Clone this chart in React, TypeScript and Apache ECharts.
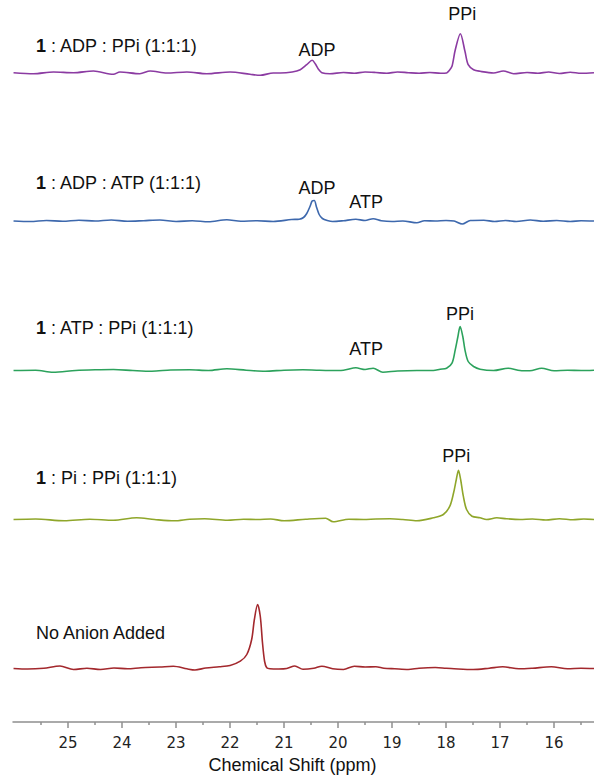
import React, { useEffect, useRef } from 'react';
import * as echarts from 'echarts';

// [chemical shift (ppm), intensity above the trace's baseline]
const ADP_PPI: [number, number][] = [
  [26.01, 0.3], [25.64, -0.7], [25.27, 1], [24.9, 0.3], [24.53, 2], [24.16, -1.3], [24.04, 1],
  [23.67, -0.7], [23.48, 2], [23.17, 0], [22.8, 1], [22.43, -0.7], [22.0, 1], [21.63, -1.3],
  [21.44, -2.3], [21.2, 0], [21.07, 0], [20.85, 1], [20.7, 3.3], [20.58, 8.3], [20.48, 12.7],
  [20.42, 9], [20.36, 3.5], [20.3, 0.3], [20.15, -0.7], [19.9, 0.5], [19.7, -0.3], [19.5, 1],
  [19.3, 0.5], [19.1, -0.3], [18.9, 1], [18.7, 0.3], [18.5, -0.3], [18.3, 0.5], [18.1, -0.3],
  [17.99, 0], [17.94, 2.5], [17.89, 6.7], [17.83, 23], [17.735, 39.3], [17.65, 21.7], [17.59, 8.3],
  [17.49, 3.3], [17.37, 1.7], [17.12, 0], [16.94, 2], [16.75, -0.7], [16.5, 0.5], [16.3, -0.3],
  [16.1, 1], [15.9, -0.5], [15.7, 0.8], [15.5, -0.3], [15.26, 0.3],
];

const ADP_ATP: [number, number][] = [
  [26.01, 0], [25.7, -0.5], [25.4, 0.5], [25.1, -0.3], [24.8, 0.8], [24.5, 0], [24.2, 1], [23.9, -0.3],
  [23.6, 0.3], [23.3, 1], [23.0, -0.5], [22.7, 0.3], [22.4, -0.8], [22.06, 1.2], [21.8, -0.3],
  [21.5, 0.3], [21.2, -0.5], [20.86, 1.5], [20.72, 1.8], [20.64, 3.5], [20.58, 7.5], [20.52, 14.5],
  [20.48, 20], [20.44, 20.5], [20.4, 14], [20.35, 6.5], [20.29, 2.5], [20.2, 0.5], [20.1, -0.5],
  [19.9, 0.3], [19.67, 1.7], [19.5, 0.5], [19.35, 2.3], [19.2, 0.3], [19.0, -0.5], [18.8, 0],
  [18.54, -1.8], [18.4, 0.3], [18.2, 0], [18.0, 0.5], [17.85, 0], [17.7, -3], [17.55, 0.5],
  [17.3, 0.8], [17.1, -0.5], [16.9, 0.5], [16.7, -0.5], [16.44, 1], [16.2, -0.3], [15.95, 0.5],
  [15.7, -0.5], [15.5, 0.3], [15.26, 0],
];

const ATP_PPI: [number, number][] = [
  [26.01, 0], [25.6, 0.3], [25.28, -1.7], [24.86, 0], [24.5, 0.7], [24.16, 1], [23.8, 0],
  [23.45, -0.7], [23.1, 0.5], [22.75, 0.7], [22.4, 0], [22.06, 1.7], [21.7, 0.3], [21.35, -0.7],
  [21.0, 0.3], [20.65, 0.7], [20.4, 0.3], [20.16, 0], [19.9, 0.3], [19.67, 2.7], [19.5, 1],
  [19.35, 2.3], [19.17, -1.7], [18.9, -0.5], [18.54, 0], [18.235, 0], [18.11, 1.3], [17.99, 2.3],
  [17.89, 7.3], [17.83, 20.7], [17.78, 34], [17.74, 44], [17.69, 34], [17.65, 20.7], [17.59, 9],
  [17.49, 4], [17.37, 1.3], [17.12, 0], [16.85, 2.3], [16.63, 0], [16.45, -0.3], [16.23, 2.3],
  [16.0, -0.3], [15.75, 0.3], [15.5, 0], [15.26, 0.3],
];

const PI_PPI: [number, number][] = [
  [26.01, 0], [25.6, 0.5], [25.07, -1.3], [24.6, 0.3], [24.16, -0.7], [23.73, 1.7], [23.4, 0],
  [23.03, -1.3], [22.75, 0.3], [22.47, 0.7], [22.05, -0.7], [21.75, 0.3], [21.49, 0], [21.25, 0.5],
  [21.0, -1.3], [20.6, 0.3], [20.23, 1.3], [20.09, -2.3], [19.8, 0.3], [19.53, 0], [19.3, 0.5],
  [19.04, 0.7], [18.8, 0], [18.54, -1.3], [18.235, 1.7], [18.05, 5], [17.93, 13.3], [17.86, 26.7],
  [17.81, 40], [17.77, 49.3], [17.73, 40], [17.68, 23.3], [17.62, 10], [17.52, 3.3], [17.37, 1.7],
  [17.25, 0], [17.06, 1.7], [16.88, 0.7], [16.63, 0], [16.4, 0.5], [16.15, -0.5], [15.9, 0.8],
  [15.65, -0.3], [15.45, 0.5], [15.26, 0],
];

const NO_ANION: [number, number][] = [
  [26.01, 0], [25.75, -0.5], [25.45, 0.3], [25.15, 2.5], [24.9, -1], [24.65, 0.3], [24.4, -1],
  [24.15, 0.5], [23.9, -0.3], [23.65, 0.8], [23.3, 1.5], [23.05, 2.2], [22.8, -0.3], [22.65, -1.5],
  [22.45, 0.5], [22.2, 1.7], [22.0, 3], [21.81, 7.3], [21.69, 14], [21.6, 29], [21.55, 49],
  [21.49, 64], [21.44, 52], [21.4, 26], [21.36, 7], [21.32, 0.7], [21.26, -0.3], [21.1, -0.5],
  [20.95, 0], [20.8, 2.5], [20.65, -0.8], [20.45, 0.2], [20.3, 2.3], [20.1, -0.3], [19.9, -1],
  [19.7, 2.3], [19.5, 1.5], [19.3, 1.8], [19.15, 0.3], [18.95, -0.3], [18.7, -1], [18.5, 0.3],
  [18.2, 1], [18.0, 0.2], [17.85, -0.3], [17.5, -1], [17.2, 0.3], [16.95, 1.7], [16.65, -0.3],
  [16.4, 0.3], [16.05, 1.7], [15.75, -0.3], [15.5, 0.3], [15.26, 0],
];

// peak labels: [text, ppm, height above baseline]
const PEAKS_ADP_PPI: [string, number, number][] = [['ADP', 20.39, 23], ['PPi', 17.7, 59]];
const PEAKS_ADP_ATP: [string, number, number][] = [['ADP', 20.39, 33], ['ATP', 19.48, 19]];
const PEAKS_ATP_PPI: [string, number, number][] = [['ATP', 19.48, 22], ['PPi', 17.74, 57]];
const PEAKS_PI_PPI: [string, number, number][] = [['PPi', 17.81, 64]];
const PEAKS_NO_ANION: [string, number, number][] = [];

const SAMPLE_NAMES = ['ADP : PPi (1:1:1)', 'ADP : ATP (1:1:1)', 'ATP : PPi (1:1:1)', 'Pi : PPi (1:1:1)', 'No Anion Added'];
const MAJOR_TICKS = [25, 24, 23, 22, 21, 20, 19, 18, 17, 16];
const MINOR_TICKS = [25.5, 24.5, 23.5, 22.5, 21.5, 20.5, 19.5, 18.5, 17.5, 16.5, 15.5];

const PPM_MIN = 15.26;
const PPM_MAX = 26.02;

const FONT = '"Liberation Sans", Arial, sans-serif';

export default function App() {
  const ref = useRef<HTMLDivElement>(null);
  useEffect(() => {
    const chart = echarts.init(ref.current!, null, { renderer: 'svg' });
    const traces = [
      { data: ADP_PPI, peaks: PEAKS_ADP_PPI, color: '#8b3ba2', top: 3, labelY: 46 },
      { data: ADP_ATP, peaks: PEAKS_ADP_ATP, color: '#3d68ad', top: 151, labelY: 183 },
      { data: ATP_PPI, peaks: PEAKS_ATP_PPI, color: '#2ca25c', top: 300.5, labelY: 328 },
      { data: PI_PPI, peaks: PEAKS_PI_PPI, color: '#8fa62a', top: 449.5, labelY: 478 },
      { data: NO_ANION, peaks: PEAKS_NO_ANION, color: '#a3282d', top: 598.5, labelY: 633 },
    ];
    const grid: any[] = [];
    const xAxis: any[] = [];
    const yAxis: any[] = [];
    const series: any[] = [];
    traces.forEach((t, i) => {
      const last = i === traces.length - 1;
      grid.push({ left: 13, right: 0, top: t.top, height: last ? 123.5 : 80 });
      xAxis.push(
        last
          ? {
              gridIndex: i, type: 'value', min: PPM_MIN, max: PPM_MAX, inverse: true, position: 'bottom',
              axisLine: { show: true, onZero: false, lineStyle: { color: '#8f8f8f', width: 1.5 } },
              axisTick: { show: true, customValues: MAJOR_TICKS, length: 6, lineStyle: { color: '#8f8f8f', width: 1.5 } },
              axisLabel: { show: true, customValues: MAJOR_TICKS, margin: 13, fontSize: 15, color: '#222', fontFamily: '"DejaVu Sans", sans-serif' },
              splitLine: { show: false },
              name: 'Chemical Shift (ppm)', nameLocation: 'middle', nameGap: 34,
              nameTextStyle: { fontSize: 18, color: '#111', fontFamily: FONT, padding: [0, 22, 0, 0] },
            }
          : { gridIndex: i, type: 'value', min: PPM_MIN, max: PPM_MAX, inverse: true, show: false }
      );
      yAxis.push({ gridIndex: i, type: 'value', min: last ? -53.5 : -10, max: 70, show: false });
      series.push({
        type: 'line', xAxisIndex: i, yAxisIndex: i, data: t.data, symbol: 'none', showSymbol: false,
        smooth: 0.3, lineStyle: { color: t.color, width: 1.6 }, silent: true,
        markPoint: {
          symbol: 'circle', symbolSize: 1, itemStyle: { color: 'rgba(0,0,0,0)' }, silent: true,
          data: t.peaks.map(([txt, x, y]) => ({
            coord: [x, y], value: txt,
            label: { show: true, position: 'inside', formatter: txt, fontSize: 18, color: '#111', fontFamily: FONT },
          })),
        },
      });
    });
    // minor ticks
    grid.push({ left: 13, right: 0, top: 598.5, height: 123.5 });
    xAxis.push({
      gridIndex: 5, type: 'value', min: PPM_MIN, max: PPM_MAX, inverse: true, position: 'bottom',
      axisLine: { show: false, onZero: false },
      axisTick: { show: true, customValues: MINOR_TICKS, length: 3, lineStyle: { color: '#8f8f8f', width: 1.5 } },
      axisLabel: { show: false }, splitLine: { show: false },
    });
    yAxis.push({ gridIndex: 5, type: 'value', min: -53.5, max: 70, show: false });

    const graphic = traces.map((t, i) => ({
      type: 'text', x: 36, y: t.labelY,
      style: {
        text: i < 4 ? `{b|1} : ${SAMPLE_NAMES[i]}` : SAMPLE_NAMES[i],
        fontSize: 18, fill: '#111', fontFamily: FONT, verticalAlign: 'middle',
        rich: { b: { fontWeight: 'bold', fontSize: 18, fontFamily: FONT, fill: '#111' } },
      },
    }));

    chart.setOption({ animation: false, backgroundColor: '#fff', grid, xAxis, yAxis, series, graphic });
    return () => chart.dispose();
  }, []);
  return <div ref={ref} style={{ position: 'absolute', left: 0, top: 0, width: 594, height: 777 }} />;
}
